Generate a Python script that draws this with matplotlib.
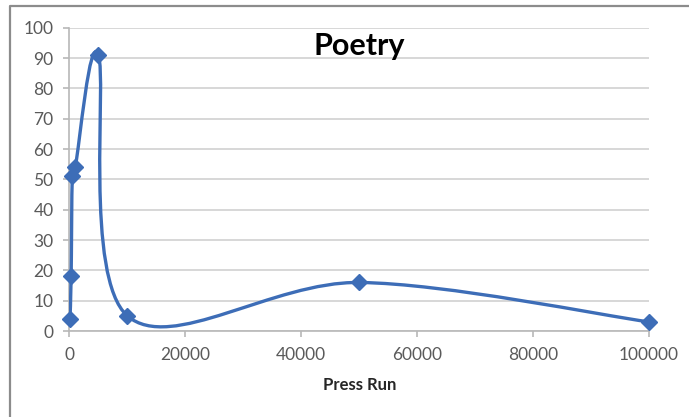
import numpy as np
import matplotlib
matplotlib.use("Agg")
import matplotlib.pyplot as plt
from matplotlib.path import Path
from matplotlib.patches import PathPatch
from matplotlib.lines import Line2D

# data, in the order the series is drawn
press_run = [100, 300, 500, 1000, 5000, 10000, 50000, 100000]
poetry = [4, 18, 51, 54, 91, 5, 16, 3]
x_ticks = [0, 20000, 40000, 60000, 80000, 100000]
y_ticks = list(range(0, 101, 10))

BLUE = "#3d6db7"
GRID = "#d4d4d4"
TICK_COL = "#5a5a5a"

plt.rcParams["font.family"] = ["Lato", "DejaVu Sans"]


def smooth_path(xs, ys):
    """Excel-like smoothed line: Catmull-Rom turned into cubic Bezier."""
    pts = np.column_stack([xs, ys]).astype(float)
    n = len(pts)
    verts = [pts[0]]
    codes = [Path.MOVETO]
    for i in range(n - 1):
        p0 = pts[i - 1] if i > 0 else pts[i]
        p1 = pts[i]
        p2 = pts[i + 1]
        p3 = pts[i + 2] if i + 2 < n else pts[i + 1]
        c1 = p1 + (p2 - p0) / 6.0
        c2 = p2 - (p3 - p1) / 6.0
        verts += [c1, c2, p2]
        codes += [Path.CURVE4] * 3
    return Path(verts, codes)


fig = plt.figure(figsize=(6.89, 4.17), dpi=100)
ax = fig.add_axes([69.4 / 689, 1 - 331 / 417, (649 - 69.4) / 689, (331 - 27.7) / 417])

# outer chart frame (only left and top edges are visible)
fx = 10 / 689
fy = 1 - 5.5 / 417
fig.lines.append(Line2D([fx, fx, 1.0], [0.0, fy, fy], transform=fig.transFigure,
                        color="#8c8c8c", linewidth=1.6))

ax.add_patch(PathPatch(smooth_path(press_run, poetry), facecolor="none",
                       edgecolor=BLUE, linewidth=2.4, zorder=3))
ax.plot(press_run, poetry, linestyle="none", marker="D", markersize=8,
        color=BLUE, zorder=4, clip_on=False)

ax.set_xlim(0, 100000)
ax.set_ylim(0, 100)
ax.set_xticks(x_ticks)
ax.set_yticks(y_ticks)
ax.set_xticklabels([str(v) for v in x_ticks])
ax.yaxis.grid(True, color=GRID, linewidth=1.3)
ax.set_axisbelow(True)
for s in ["top", "right"]:
    ax.spines[s].set_visible(False)
for s in ["left", "bottom"]:
    ax.spines[s].set_color("#b8b8b8")
    ax.spines[s].set_linewidth(1.2)
ax.tick_params(axis="both", colors="#b8b8b8", labelcolor=TICK_COL,
               labelsize=12.5, length=4.5, width=1.2)
ax.tick_params(axis="y", pad=7)
ax.tick_params(axis="x", pad=7)

ax.text(0.5, 0.94, "Poetry", transform=ax.transAxes, ha="center", va="center",
        fontsize=22, fontweight="bold", color="black")
ax.set_xlabel("Press Run", fontsize=12, fontweight="bold", color="#262626", labelpad=10)

fig.savefig("out.png", dpi=100, facecolor="white")
